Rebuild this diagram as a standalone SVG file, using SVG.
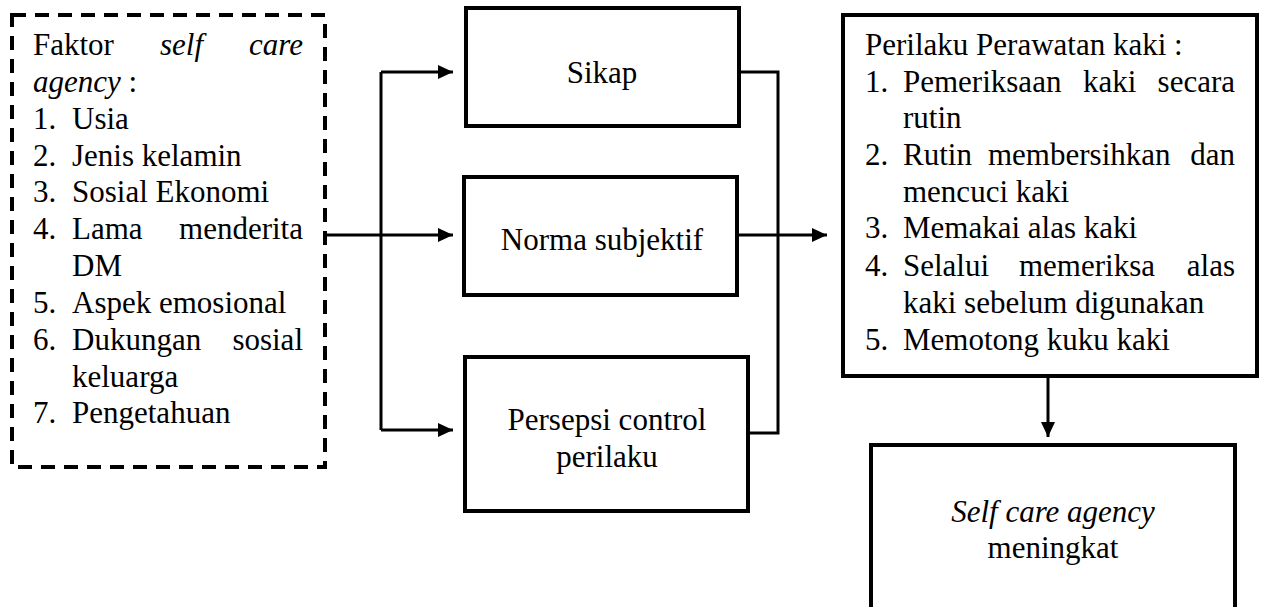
<svg xmlns="http://www.w3.org/2000/svg" width="1267" height="607" viewBox="0 0 1267 607">
  <defs>
    <marker id="arrowhead" markerUnits="userSpaceOnUse" markerWidth="16" markerHeight="16" refX="15" refY="7" orient="auto">
      <path d="M0,0 L15,7 L0,14 Z" fill="#000"/>
    </marker>
  </defs>
  <rect x="0" y="0" width="1267" height="607" fill="#ffffff"/>

  <!-- connectors: black polylines with filled arrowheads -->
  <g id="connectors" fill="none" stroke="#000" stroke-width="3">
    <path d="M325,235 H453" marker-end="url(#arrowhead)"/>
    <path d="M381,72 V430"/>
    <path d="M381,72 H453" marker-end="url(#arrowhead)"/>
    <path d="M381,430 H453" marker-end="url(#arrowhead)"/>
    <path d="M739,72 H778 V433 H748"/>
    <path d="M737,235 H827" marker-end="url(#arrowhead)"/>
    <path d="M1048,376 V437" marker-end="url(#arrowhead)"/>
  </g>

  <g id="faktor">
    <rect x="12" y="15" width="313" height="452" fill="#fff" stroke="#000" stroke-width="4" stroke-dasharray="14 9"/>
    <text font-family="Liberation Serif, serif" font-size="31" x="33" y="55">Faktor</text>
    <text font-family="Liberation Serif, serif" font-size="31" x="160" y="55" font-style="italic">self</text>
    <text font-family="Liberation Serif, serif" font-size="31" x="303" y="55" font-style="italic" text-anchor="end">care</text>
    <text font-family="Liberation Serif, serif" font-size="31" x="33" y="92"><tspan font-style="italic">agency</tspan> :</text>
    <text font-family="Liberation Serif, serif" font-size="31" x="33" y="129">1.</text>
    <text font-family="Liberation Serif, serif" font-size="31" x="72" y="129">Usia</text>
    <text font-family="Liberation Serif, serif" font-size="31" x="33" y="166">2.</text>
    <text font-family="Liberation Serif, serif" font-size="31" x="72" y="166">Jenis kelamin</text>
    <text font-family="Liberation Serif, serif" font-size="31" x="33" y="202">3.</text>
    <text font-family="Liberation Serif, serif" font-size="31" x="72" y="202">Sosial Ekonomi</text>
    <text font-family="Liberation Serif, serif" font-size="31" x="33" y="239">4.</text>
    <text font-family="Liberation Serif, serif" font-size="31" x="72" y="239">Lama</text>
    <text font-family="Liberation Serif, serif" font-size="31" x="303" y="239" text-anchor="end">menderita</text>
    <text font-family="Liberation Serif, serif" font-size="31" x="72" y="276">DM</text>
    <text font-family="Liberation Serif, serif" font-size="31" x="33" y="313">5.</text>
    <text font-family="Liberation Serif, serif" font-size="31" x="72" y="313">Aspek emosional</text>
    <text font-family="Liberation Serif, serif" font-size="31" x="33" y="350">6.</text>
    <text font-family="Liberation Serif, serif" font-size="31" x="72" y="350">Dukungan</text>
    <text font-family="Liberation Serif, serif" font-size="31" x="303" y="350" text-anchor="end">sosial</text>
    <text font-family="Liberation Serif, serif" font-size="31" x="72" y="387">keluarga</text>
    <text font-family="Liberation Serif, serif" font-size="31" x="33" y="423">7.</text>
    <text font-family="Liberation Serif, serif" font-size="31" x="72" y="423">Pengetahuan</text>
  </g>

  <g id="sikap">
    <rect x="466" y="8" width="273" height="118" fill="#fff" stroke="#000" stroke-width="4"/>
    <text font-family="Liberation Serif, serif" font-size="31" x="602" y="83" text-anchor="middle">Sikap</text>
  </g>

  <g id="norma">
    <rect x="464" y="177" width="273" height="118" fill="#fff" stroke="#000" stroke-width="4"/>
    <text font-family="Liberation Serif, serif" font-size="31" x="602" y="250" text-anchor="middle">Norma subjektif</text>
  </g>

  <g id="persepsi">
    <rect x="465" y="357" width="283" height="154" fill="#fff" stroke="#000" stroke-width="4"/>
    <text font-family="Liberation Serif, serif" font-size="31" x="607" y="430" text-anchor="middle">Persepsi control</text>
    <text font-family="Liberation Serif, serif" font-size="31" x="607" y="467" text-anchor="middle">perilaku</text>
  </g>

  <g id="perilaku">
    <rect x="843" y="15" width="414" height="361" fill="#fff" stroke="#000" stroke-width="4"/>
    <text font-family="Liberation Serif, serif" font-size="31" x="865" y="55">Perilaku Perawatan kaki :</text>
    <text font-family="Liberation Serif, serif" font-size="31" x="865" y="92">1.</text>
    <text font-family="Liberation Serif, serif" font-size="31" x="903" y="92">Pemeriksaan</text>
    <text font-family="Liberation Serif, serif" font-size="31" x="1083" y="92">kaki</text>
    <text font-family="Liberation Serif, serif" font-size="31" x="1235" y="92" text-anchor="end">secara</text>
    <text font-family="Liberation Serif, serif" font-size="31" x="903" y="128">rutin</text>
    <text font-family="Liberation Serif, serif" font-size="31" x="865" y="165">2.</text>
    <text font-family="Liberation Serif, serif" font-size="31" x="903" y="165">Rutin</text>
    <text font-family="Liberation Serif, serif" font-size="31" x="988" y="165">membersihkan</text>
    <text font-family="Liberation Serif, serif" font-size="31" x="1235" y="165" text-anchor="end">dan</text>
    <text font-family="Liberation Serif, serif" font-size="31" x="903" y="202">mencuci kaki</text>
    <text font-family="Liberation Serif, serif" font-size="31" x="865" y="238">3.</text>
    <text font-family="Liberation Serif, serif" font-size="31" x="903" y="238">Memakai alas kaki</text>
    <text font-family="Liberation Serif, serif" font-size="31" x="865" y="276">4.</text>
    <text font-family="Liberation Serif, serif" font-size="31" x="903" y="276">Selalui</text>
    <text font-family="Liberation Serif, serif" font-size="31" x="1019" y="276">memeriksa</text>
    <text font-family="Liberation Serif, serif" font-size="31" x="1235" y="276" text-anchor="end">alas</text>
    <text font-family="Liberation Serif, serif" font-size="31" x="903" y="313">kaki sebelum digunakan</text>
    <text font-family="Liberation Serif, serif" font-size="31" x="865" y="350">5.</text>
    <text font-family="Liberation Serif, serif" font-size="31" x="903" y="350">Memotong kuku kaki</text>
  </g>

  <g id="hasil">
    <rect x="871" y="445" width="364" height="180" fill="#fff" stroke="#000" stroke-width="4"/>
    <text font-family="Liberation Serif, serif" font-size="31" x="1053" y="522" text-anchor="middle" font-style="italic">Self care agency</text>
    <text font-family="Liberation Serif, serif" font-size="31" x="1053" y="558" text-anchor="middle">meningkat</text>
  </g>
</svg>
